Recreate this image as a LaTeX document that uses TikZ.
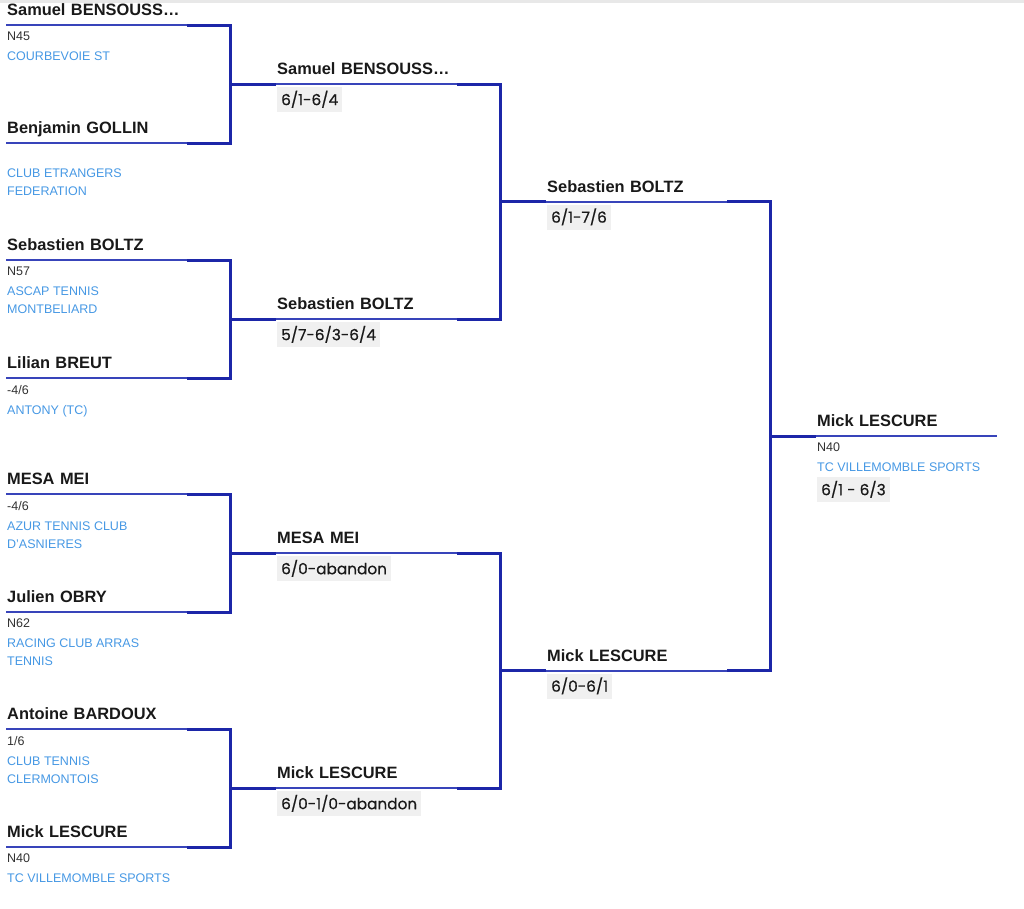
\documentclass[tikz,border=0pt]{standalone}
\usepackage{fontspec}
\setmainfont{Liberation Sans}
\newfontfamily\scorefont{Poppins}[BoldFont=Poppins, BoldFeatures={FakeBold=0.6}]
\usetikzlibrary{positioning}
\definecolor{bracket}{RGB}{28,38,168}
\definecolor{underl}{RGB}{56,68,186}
\definecolor{club}{RGB}{70,152,228}
\definecolor{rank}{RGB}{50,50,50}
\definecolor{scorebg}{RGB}{240,240,240}
\tikzset{
player/.style={anchor=south west, text width=179pt, inner xsep=1pt, inner ysep=0pt,
  text height=12pt, text depth=9pt, align=left, text=black!90,
  font=\fontsize{16.4}{18}\selectfont\bfseries,
  append after command={(\tikzlastnode.south west) edge[underl,line width=2pt] (\tikzlastnode.south east)}},
info/.style={inner sep=0pt, align=left, text=rank, font=\fontsize{12.5}{18}\selectfont,
  execute at begin node=\rule{0pt}{10pt}},
score/.style={fill=scorebg, inner xsep=4pt, inner ysep=0pt, text height=18pt, text depth=7pt,
  font=\fontsize{15.3}{16}\scorefont\bfseries, text=black!90},
conn/.style={bracket, line width=3pt}
}
\begin{document}
\begin{tikzpicture}[x=1pt,y=-1pt]
\useasboundingbox (0,0) rectangle (1024,908);
\fill[gray!18] (0,0) rectangle (1024,2.5);
\node[player] (p1) at (6,25) {Samuel BENSOUSS…};
\node[player] (p2) at (6,143) {Benjamin GOLLIN};
\node[player] (p3) at (6,260) {Sebastien BOLTZ};
\node[player] (p4) at (6,378) {Lilian BREUT};
\node[player] (p5) at (6,494) {MESA MEI};
\node[player] (p6) at (6,612) {Julien OBRY};
\node[player] (p7) at (6,729) {Antoine BARDOUX};
\node[player] (p8) at (6,847) {Mick LESCURE};
\node[info, below right=7pt and 1pt of p1.south west] (i1) {N45\\[2pt]\textcolor{club}{COURBEVOIE ST}};
\node[info, below right=26pt and 1pt of p2.south west] (i2) {\textcolor{club}{CLUB ETRANGERS}\\\textcolor{club}{FEDERATION}};
\node[info, below right=7pt and 1pt of p3.south west] (i3) {N57\\[2pt]\textcolor{club}{ASCAP TENNIS}\\\textcolor{club}{MONTBELIARD}};
\node[info, below right=7pt and 1pt of p4.south west] (i4) {-4/6\\[2pt]\textcolor{club}{ANTONY (TC)}};
\node[info, below right=7pt and 1pt of p5.south west] (i5) {-4/6\\[2pt]\textcolor{club}{AZUR TENNIS CLUB}\\\textcolor{club}{D'ASNIERES}};
\node[info, below right=7pt and 1pt of p6.south west] (i6) {N62\\[2pt]\textcolor{club}{RACING CLUB ARRAS}\\\textcolor{club}{TENNIS}};
\node[info, below right=7pt and 1pt of p7.south west] (i7) {1/6\\[2pt]\textcolor{club}{CLUB TENNIS}\\\textcolor{club}{CLERMONTOIS}};
\node[info, below right=7pt and 1pt of p8.south west] (i8) {N40\\[2pt]\textcolor{club}{TC VILLEMOMBLE SPORTS}};
\node[player] (q1) at (276,84) {Samuel BENSOUSS…};
\node[player] (q2) at (276,319) {Sebastien BOLTZ};
\node[player] (q3) at (276,553) {MESA MEI};
\node[player] (q4) at (276,788) {Mick LESCURE};
\node[score, below right=3pt and 1pt of q1.south west] (r1) {6/1-6/4};
\node[score, below right=3pt and 1pt of q2.south west] (r2) {5/7-6/3-6/4};
\node[score, below right=3pt and 1pt of q3.south west] (r3) {6/0-abandon};
\node[score, below right=3pt and 1pt of q4.south west] (r4) {6/0-1/0-abandon};
\node[player] (s1) at (546,201.5) {Sebastien BOLTZ};
\node[player] (s2) at (546,670.5) {Mick LESCURE};
\node[score, below right=3pt and 1pt of s1.south west] (t1) {6/1-7/6};
\node[score, below right=3pt and 1pt of s2.south west] (t2) {6/0-6/1};
\node[player] (w) at (816,436) {Mick LESCURE};
\node[info, below right=7pt and 1pt of w.south west] (iw) {N40\\[2pt]\textcolor{club}{TC VILLEMOMBLE SPORTS}};
\node[score, below right=41pt and 1pt of w.south west] (tw) {6/1 - 6/3};
\draw[conn] (p1.south east) -| ([xshift=-46pt]q1.south west) |- (p2.south east) ([xshift=-46pt]q1.south west) -- (q1.south west);
\draw[conn] (p3.south east) -| ([xshift=-46pt]q2.south west) |- (p4.south east) ([xshift=-46pt]q2.south west) -- (q2.south west);
\draw[conn] (p5.south east) -| ([xshift=-46pt]q3.south west) |- (p6.south east) ([xshift=-46pt]q3.south west) -- (q3.south west);
\draw[conn] (p7.south east) -| ([xshift=-46pt]q4.south west) |- (p8.south east) ([xshift=-46pt]q4.south west) -- (q4.south west);
\draw[conn] (q1.south east) -| ([xshift=-46pt]s1.south west) |- (q2.south east) ([xshift=-46pt]s1.south west) -- (s1.south west);
\draw[conn] (q3.south east) -| ([xshift=-46pt]s2.south west) |- (q4.south east) ([xshift=-46pt]s2.south west) -- (s2.south west);
\draw[conn] (s1.south east) -| ([xshift=-46pt]w.south west) |- (s2.south east) ([xshift=-46pt]w.south west) -- (w.south west);
\end{tikzpicture}
\end{document}
